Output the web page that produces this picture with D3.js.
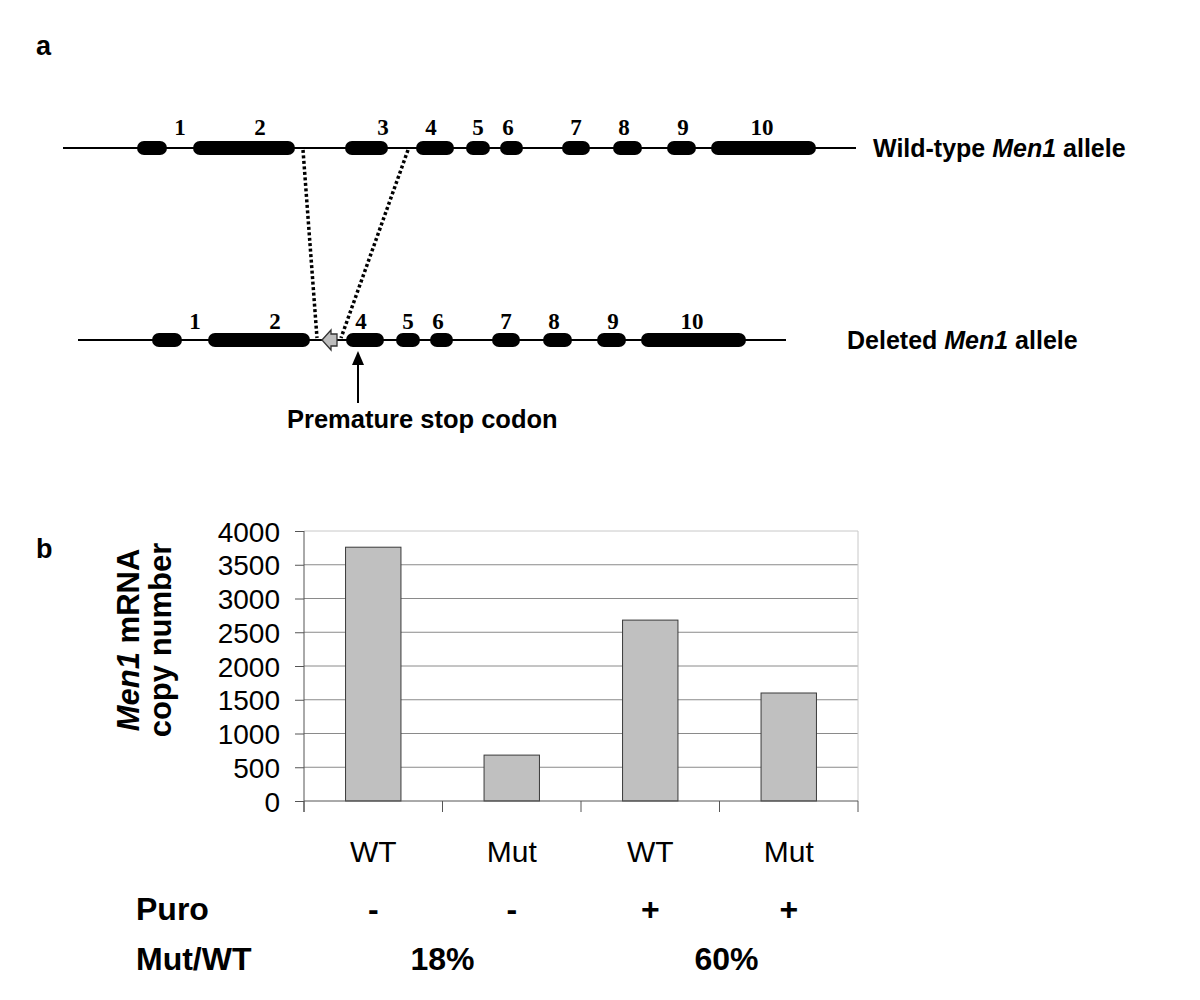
<!DOCTYPE html>
<html>
<head>
<meta charset="utf-8">
<script src="https://cdn.jsdelivr.net/npm/d3@7"></script>
<style>
  body { margin: 0; background: #fff; }
  svg { display: block; font-family: "Liberation Sans", Arial, sans-serif; }
  .num { font-family: "Liberation Serif", "Times New Roman", serif; font-weight: bold; }
</style>
</head>
<body>
<svg id="fig" width="1200" height="1000"></svg>
<script>
// ---- panel a: exon map (positions in arbitrary gene units) ----
var exonNames = ["1", "2", "3", "4", "5", "6", "7", "8", "9", "10"];
var exonStart = [81, 137, 289, 360, 410, 444, 506, 557, 611, 655];
var exonEnd   = [111, 239, 332, 398, 434, 467, 534, 586, 640, 760];
var labelAt   = [124, 204, 327, 375, 422, 452, 520, 568, 627, 706];
var geneSpan  = [7, 800];
var deletion  = [247, 352];   // removed stretch (contains exon 3)

// ---- panel b: qPCR ----
var categories = ["WT", "Mut", "WT", "Mut"];
var copyNumber = [3760, 680, 2680, 1600];
var puro = ["-", "-", "+", "+"];
var mutWt = ["18%", "60%"];
var yTicks = [0, 500, 1000, 1500, 2000, 2500, 3000, 3500, 4000];

(function() {
    var svg = d3.select("#fig");

    // panel letters
    svg.append("text").attr("x", 36).attr("y", 55).attr("font-size", 27).attr("font-weight", "bold").text("a");
    svg.append("text").attr("x", 36).attr("y", 558).attr("font-size", 27).attr("font-weight", "bold").text("b");

    // wild-type allele scale
    var wt = d3.scaleLinear().domain([0, 800]).range([56, 856]);
    // deleted allele: left part shifted right, right part shifted left
    function del(u) { return u <= deletion[0] ? wt(u) + 15 : wt(u) - 70; }

    function drawAllele(y, xf, keep, name, labelY, nameX) {
        var g = svg.append("g");
        var left = xf(geneSpan[0]), right = xf(geneSpan[1]);
        g.append("line").attr("x1", left).attr("x2", right).attr("y1", y).attr("y2", y)
            .attr("stroke", "#000").attr("stroke-width", 2);
        var idx = d3.range(exonNames.length).filter(keep);
        g.selectAll("rect.exon").data(idx).enter().append("rect")
            .attr("class", "exon")
            .attr("x", function(i) { return xf(exonStart[i]); })
            .attr("width", function(i) { return xf(exonEnd[i]) - xf(exonStart[i]); })
            .attr("y", y - 7).attr("height", 14).attr("rx", 7).attr("ry", 7)
            .attr("fill", "#000");
        g.selectAll("text.num").data(idx).enter().append("text")
            .attr("class", "num")
            .attr("x", function(i) { return xf(labelAt[i]); })
            .attr("y", labelY)
            .attr("text-anchor", "middle").attr("font-size", 23)
            .text(function(i) { return exonNames[i]; });
        var t = g.append("text").attr("x", nameX).attr("y", y + 9)
            .attr("font-size", 25).attr("font-weight", "bold");
        t.append("tspan").text(name + " ");
        t.append("tspan").attr("font-style", "italic").text("Men1");
        t.append("tspan").text(" allele");
        return g;
    }

    var wtY = 148, delY = 340;
    drawAllele(wtY, wt, function() { return true; }, "Wild-type", 135, 873);
    drawAllele(delY, del, function(i) { return exonStart[i] < deletion[0] || exonStart[i] > deletion[1]; }, "Deleted", 329, 847);

    // dotted deletion lines
    svg.selectAll("line.dot").data([[deletion[0], del(deletion[0]) - 1], [deletion[1], del(deletion[1]) + 3]])
        .enter().append("line")
        .attr("x1", function(d) { return wt(d[0]); }).attr("y1", wtY + 2)
        .attr("x2", function(d) { return d[1]; }).attr("y2", delY - 2)
        .attr("stroke", "#000").attr("stroke-width", 3.5).attr("stroke-dasharray", "3,2.5");

    // grey site arrow pointing left, between the junctions
    var ax = del(deletion[0]) + 4, bx = del(deletion[1]) - 1, hx = ax + 9;
    svg.append("path")
        .attr("d", "M" + ax + "," + delY + " L" + hx + "," + (delY - 10) + " L" + hx + "," + (delY - 6) +
            " L" + bx + "," + (delY - 6) + " L" + bx + "," + (delY + 6) + " L" + hx + "," + (delY + 6) +
            " L" + hx + "," + (delY + 10) + " Z")
        .attr("fill", "#bdbdbd").attr("stroke", "#333").attr("stroke-width", 1.3);

    // premature stop codon arrow
    var sx = del(labelAt[3]) - 3;
    svg.append("line").attr("x1", sx).attr("x2", sx).attr("y1", 403).attr("y2", 362)
        .attr("stroke", "#000").attr("stroke-width", 2);
    svg.append("path").attr("d", "M" + sx + ",351 L" + (sx - 6) + ",365 L" + (sx + 6) + ",365 Z").attr("fill", "#000");
    svg.append("text").attr("x", 287).attr("y", 428).attr("font-size", 25.5).attr("font-weight", "bold")
        .text("Premature stop codon");

    // ---- panel b ----
    var x = d3.scaleBand().domain(d3.range(categories.length)).range([304, 858])
        .paddingInner(0.6).paddingOuter(0.3);
    var y = d3.scaleLinear().domain([0, 4000]).range([801, 531]);
    var step = x.step();

    var c = svg.append("g");
    // gridlines
    c.selectAll("line.grid").data(yTicks.slice(1)).enter().append("line")
        .attr("x1", 304).attr("x2", 858)
        .attr("y1", function(d) { return y(d); }).attr("y2", function(d) { return y(d); })
        .attr("stroke", function(d) { return d === 4000 ? "#c8c8c8" : "#8a8a8a"; }).attr("stroke-width", 1);
    c.append("line").attr("x1", 858).attr("x2", 858).attr("y1", y(4000)).attr("y2", y(0))
        .attr("stroke", "#c8c8c8");

    // bars
    c.selectAll("rect.bar").data(copyNumber).enter().append("rect")
        .attr("x", function(d, i) { return x(i); })
        .attr("width", x.bandwidth())
        .attr("y", function(d) { return y(d); })
        .attr("height", function(d) { return y(0) - y(d); })
        .attr("fill", "#c0c0c0").attr("stroke", "#3a3a3a").attr("stroke-width", 1);

    // y axis
    var yAxis = d3.axisLeft(y).tickValues(yTicks).tickFormat(d3.format("d")).tickSize(9).tickPadding(15);
    var ya = c.append("g").attr("transform", "translate(304,0)").call(yAxis);
    ya.select(".domain").attr("stroke", "#555").attr("d", "M0," + y(4000) + "V" + (y(0) + 11));
    ya.selectAll(".tick line").attr("stroke", "#555");
    ya.selectAll(".tick text").attr("font-size", 28).attr("fill", "#000")
        .attr("font-family", "Liberation Sans, Arial, sans-serif").attr("dy", "0.36em");

    // x axis with ticks at category boundaries
    c.append("line").attr("x1", 304).attr("x2", 858).attr("y1", y(0)).attr("y2", y(0)).attr("stroke", "#555");
    c.selectAll("line.xt").data(d3.range(categories.length + 1)).enter().append("line")
        .attr("x1", function(i) { return 304 + i * step; }).attr("x2", function(i) { return 304 + i * step; })
        .attr("y1", y(0)).attr("y2", y(0) + 11).attr("stroke", "#555");

    // category labels
    c.selectAll("text.cat").data(categories).enter().append("text")
        .attr("x", function(d, i) { return x(i) + x.bandwidth() / 2; })
        .attr("y", 862).attr("text-anchor", "middle").attr("font-size", 30)
        .text(function(d) { return d; });

    // y title
    var yt = c.append("g").attr("transform", "translate(139,640) rotate(-90)");
    var t1 = yt.append("text").attr("text-anchor", "middle").attr("font-size", 31).attr("font-weight", "bold");
    t1.append("tspan").attr("font-style", "italic").text("Men1");
    t1.append("tspan").text(" mRNA");
    yt.append("text").attr("y", 32).attr("text-anchor", "middle").attr("font-size", 31).attr("font-weight", "bold")
        .text("copy number");

    // Puro row
    svg.append("text").attr("x", 136).attr("y", 920).attr("font-size", 32).attr("font-weight", "bold").text("Puro");
    svg.selectAll("text.puro").data(puro).enter().append("text")
        .attr("x", function(d, i) { return x(i) + x.bandwidth() / 2; })
        .attr("y", 920).attr("text-anchor", "middle").attr("font-size", 32).attr("font-weight", "bold")
        .text(function(d) { return d; });

    // Mut/WT row
    svg.append("text").attr("x", 136).attr("y", 970).attr("font-size", 32).attr("font-weight", "bold").text("Mut/WT");
    svg.selectAll("text.ratio").data(mutWt).enter().append("text")
        .attr("x", function(d, i) { return 304 + (2 * i + 1) * step + (i === 0 ? 0 : 7); })
        .attr("y", 970).attr("text-anchor", "middle").attr("font-size", 32).attr("font-weight", "bold")
        .text(function(d) { return d; });
})();
</script>
</body>
</html>
